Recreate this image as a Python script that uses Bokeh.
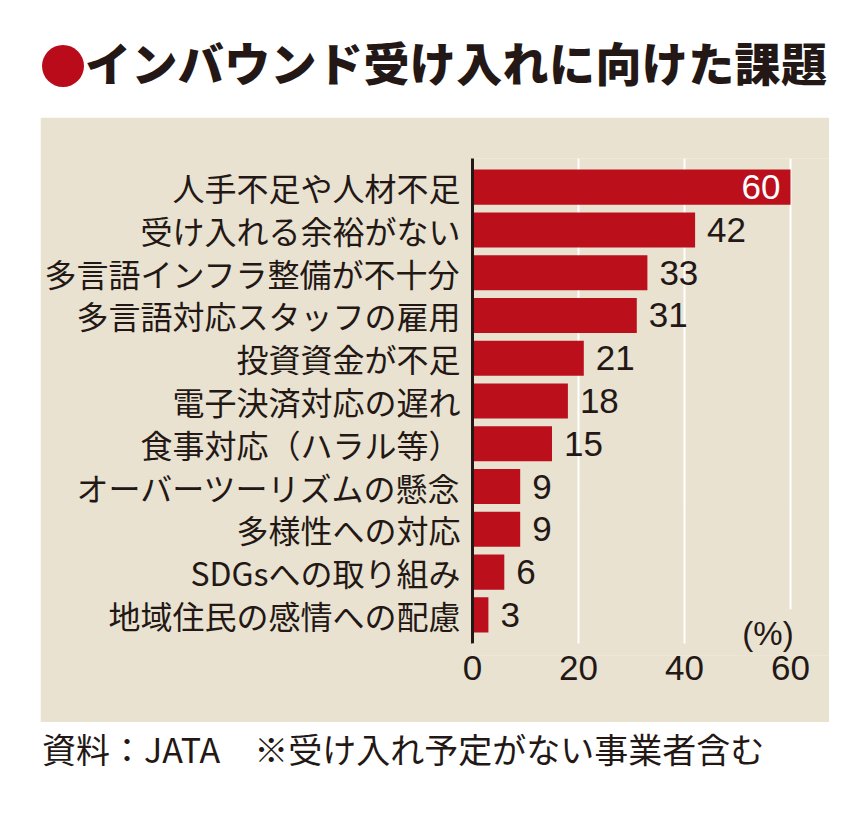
from bokeh.plotting import figure
from bokeh.models import ColumnDataSource, Range1d, FixedTicker, Label, Div, BoxAnnotation
from bokeh.layouts import column
from bokeh.core.properties import value
from bokeh.embed import file_html
from bokeh.resources import INLINE

# ---- data ----
categories = ["人手不足や人材不足", "受け入れる余裕がない", "多言語インフラ整備が不十分",
              "多言語対応スタッフの雇用", "投資資金が不足", "電子決済対応の遅れ",
              "食事対応（ハラル等）", "オーバーツーリズムの懸念", "多様性への対応",
              "SDGsへの取り組み", "地域住民の感情への配慮"]
values = [60, 42, 33, 31, 21, 18, 15, 9, 9, 6, 3]
x_ticks = [0, 20, 40, 60]
title_text = "インバウンド受け入れに向けた課題"
unit_text = "(%)"
footer_text = "資料：JATA　※受け入れ予定がない事業者含む"

# ---- styles ----
BEIGE = "#e9e2d0"
RED = "#bb101b"
INK = "#231815"
JP = "Noto Sans CJK JP"
NUM = "Liberation Sans"

n = len(categories)
idx = list(range(n))
src = ColumnDataSource(dict(y=idx, v=values, lab=[str(v) for v in values]))
vmax = max(values)
inside = ColumnDataSource(dict(y=[i for i, v in zip(idx, values) if v == vmax],
                               v=[v for v in values if v == vmax],
                               lab=[str(v) for v in values if v == vmax]))
outside = ColumnDataSource(dict(y=[i for i, v in zip(idx, values) if v != vmax],
                                v=[v for v in values if v != vmax],
                                lab=[str(v) for v in values if v != vmax]))

lo_pad, hi_pad = 0.67, 0.67
y_lo = n - 1 + hi_pad          # end of grid / axis line
y_bottom = y_lo + 0.28         # bottom of plotting area (room for the unit label)
p = figure(width=789, height=605, output_backend="svg", toolbar_location=None,
           x_range=Range1d(0, 67.36), y_range=Range1d(y_bottom, -lo_pad),
           min_border_left=432, min_border_right=0, min_border_top=41, min_border_bottom=67,
           margin=(0, 0, 0, 40))
p.background_fill_color = BEIGE
p.border_fill_color = BEIGE
p.outline_line_color = None

p.hbar(y="y", right="v", left=0, height=0.82, source=src, color=RED, line_color=None)

p.text(x="v", y="y", text="lab", source=outside, x_offset=12,
       text_align="left", text_baseline="middle", text_color=INK,
       text_font=value(NUM), text_font_size="35px")
p.text(x="v", y="y", text="lab", source=inside, x_offset=-10,
       text_align="right", text_baseline="middle", text_color="white",
       text_font=value(NUM), text_font_size="35px")

# grid
p.ygrid.grid_line_color = None
p.xgrid.ticker = FixedTicker(ticks=x_ticks[1:])
p.xgrid.grid_line_color = "white"
p.xgrid.grid_line_width = 2

# x axis
xa = p.xaxis[0]
xa.ticker = FixedTicker(ticks=x_ticks)
xa.axis_line_color = None
xa.major_tick_line_color = None
xa.major_tick_out = 0
xa.major_tick_in = 0
xa.minor_tick_line_color = None
xa.major_label_standoff = 0
xa.major_label_text_font = NUM
xa.major_label_text_font_size = "35px"
xa.major_label_text_color = INK

# y axis
ya = p.yaxis[0]
ya.ticker = FixedTicker(ticks=idx)
ya.bounds = (-lo_pad, y_lo)
ya.major_label_overrides = {i: c for i, c in zip(idx, categories)}
ya.axis_line_color = INK
ya.axis_line_width = 3
ya.major_tick_line_color = None
ya.major_tick_out = 0
ya.major_tick_in = 0
ya.minor_tick_line_color = None
ya.major_label_standoff = 12
ya.major_label_text_font = JP
ya.major_label_text_font_size = "32px"
ya.major_label_text_font_style = "normal"
ya.major_label_text_color = INK

# strip below the plotting area where grid lines stop
p.add_layout(BoxAnnotation(left=0, right=p.x_range.end, top=y_lo, bottom=y_bottom,
                           fill_color=BEIGE, fill_alpha=1.0,
                           line_color=None, line_alpha=0, level="overlay"))

p.add_layout(Label(x=55.75, y=y_lo - 0.23, text=unit_text,
                   text_align="center", text_baseline="middle",
                   text_font=NUM, text_font_size="33px", text_color=INK,
                   background_fill_color=BEIGE, padding=6, level="overlay"))

title = Div(text=(
    '<div style="display:flex;align-items:center;height:44px;margin-top:44px;margin-left:42px;">'
    '<span style="display:inline-block;width:42px;height:42px;border-radius:50%;'
    'background:#b90b1a;"></span>'
    f'<span style="margin-left:1px;position:relative;top:-5px;font-family:\'{JP}\';'
    f'font-weight:900;font-size:46px;line-height:44px;color:{INK};white-space:nowrap;'
    f'letter-spacing:0.4px;">{title_text}</span>'
    '</div>'), width=868, height=117, margin=(0, 0, 0, 0))

footer = Div(text=(
    f'<div style="margin-top:9px;margin-left:42px;font-family:\'{JP}\';font-size:34px;'
    f'line-height:36px;color:{INK};white-space:nowrap;">{footer_text}</div>'),
    width=868, height=80, margin=(0, 0, 0, 0))

layout = column(title, p, footer, spacing=0)
open("out.html", "w").write(file_html(layout, INLINE))
